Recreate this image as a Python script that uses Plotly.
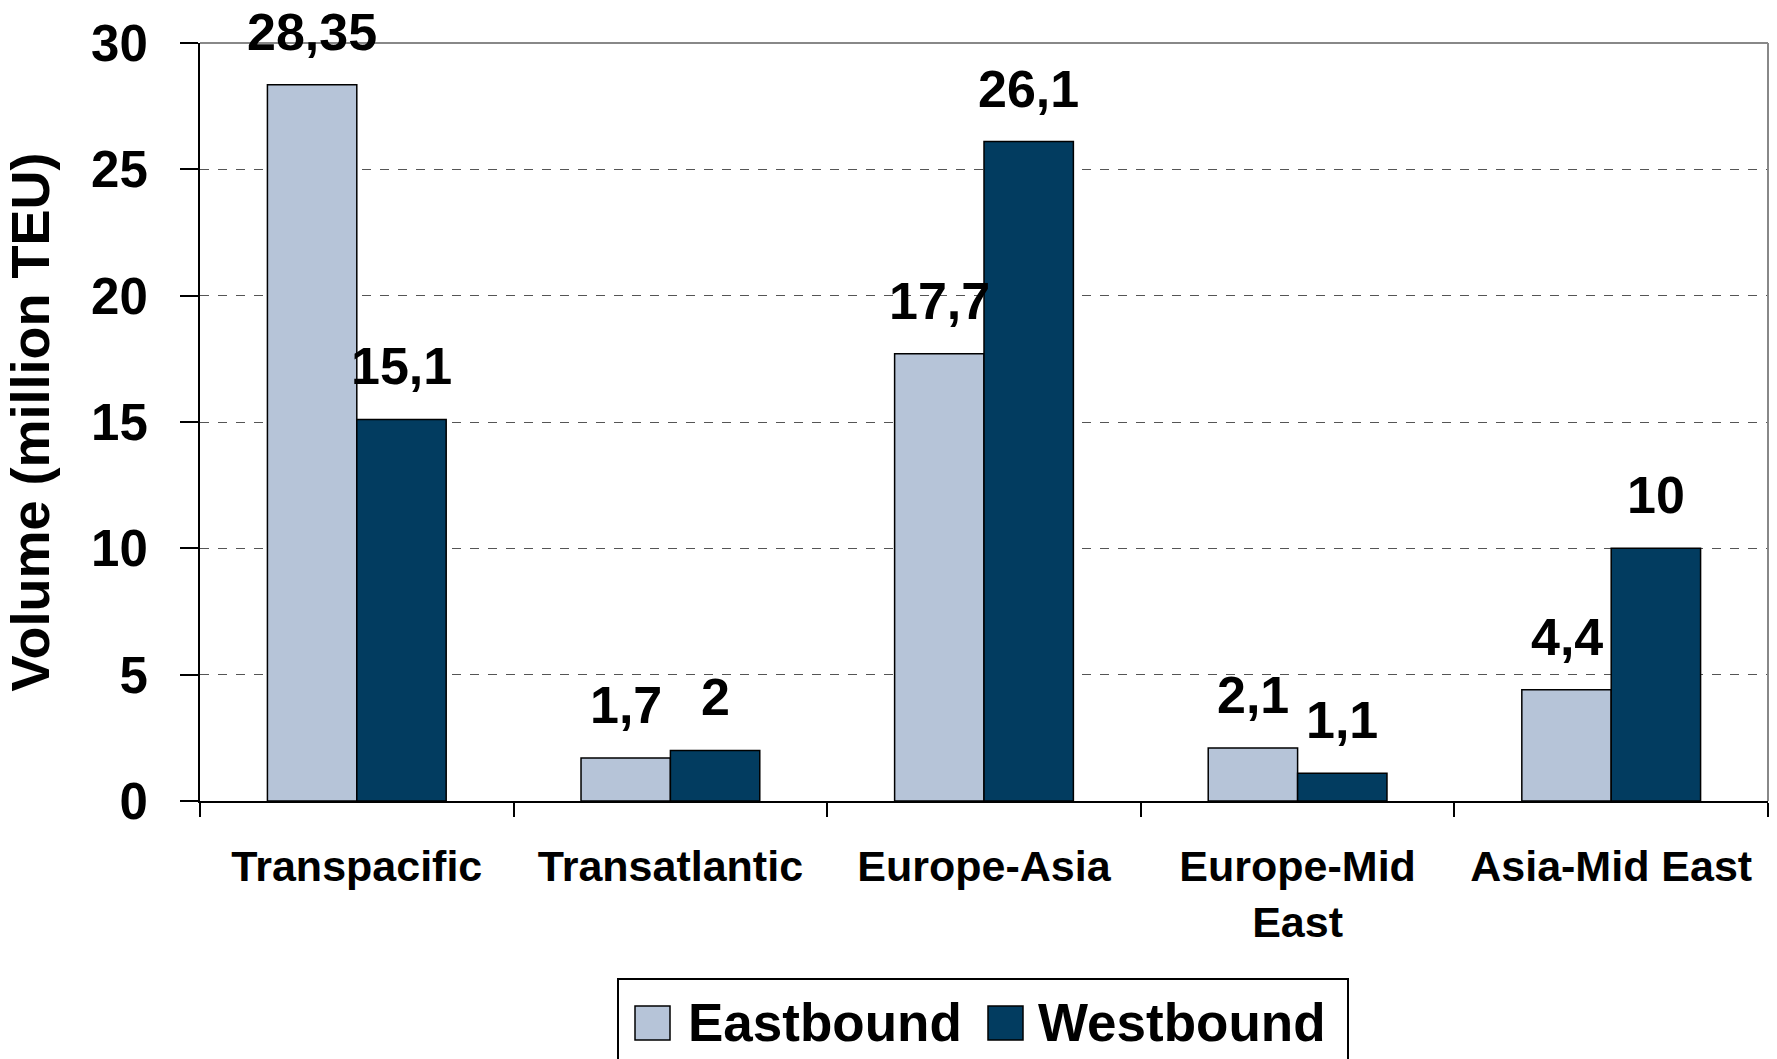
import plotly.graph_objects as go

categories = ["Transpacific", "Transatlantic", "Europe-Asia", "Europe-Mid<br>East", "Asia-Mid East"]
eastbound = [28.35, 1.7, 17.7, 2.1, 4.4]
westbound = [15.1, 2.0, 26.1, 1.1, 10]
series_names = ["Eastbound", "Westbound"]
y_ticks = [0, 5, 10, 15, 20, 25, 30]

EAST_COLOR = "#B6C4D8"
WEST_COLOR = "#023C60"
FONT = "Liberation Sans, Arial, sans-serif"

W, H = 1777, 1059
ML, MR, MT, MB = 200, 9, 43, 258
BARGAP = 0.43
plot_w = W - ML - MR
plot_h = H - MT - MB

def fmt(v):
    return f"{v:g}".replace(".", ",")

fig = go.Figure()
for name, vals, col in [(series_names[0], eastbound, EAST_COLOR), (series_names[1], westbound, WEST_COLOR)]:
    fig.add_trace(go.Bar(
        x=categories, y=vals, name=name,
        marker=dict(color=col, line=dict(color="#000000", width=1.5)),
        showlegend=False, cliponaxis=False,
    ))

# data labels above bars
cat_px = plot_w / len(categories)
bar_px = cat_px * (1 - BARGAP) / 2
annotations = []
for vals, sign in [(eastbound, -1), (westbound, 1)]:
    for c, v in zip(categories, vals):
        annotations.append(dict(
            x=c, y=v, xref="x", yref="y", text=fmt(v), showarrow=False,
            xanchor="center", yanchor="bottom", xshift=sign * bar_px / 2, yshift=22,
            font=dict(family=FONT, size=52, color="#000000", weight="bold"),
        ))

def px_x(p):
    return (p - ML) / plot_w

def px_y(p):
    return (H - MB - p) / plot_h

# custom legend
shapes = [
    # top and right plot borders (gray)
    dict(type="line", xref="paper", yref="paper", x0=0, x1=1, y0=1, y1=1, line=dict(color="#888888", width=2)),
    dict(type="line", xref="paper", yref="paper", x0=1, x1=1, y0=0, y1=1, line=dict(color="#888888", width=2)),
    # legend box
    dict(type="rect", xref="paper", yref="paper", x0=px_x(618), x1=px_x(1348), y0=px_y(979), y1=px_y(1080),
         line=dict(color="#000000", width=2), fillcolor="rgba(0,0,0,0)"),
    dict(type="rect", xref="paper", yref="paper", x0=px_x(635), x1=px_x(670), y0=px_y(1006), y1=px_y(1040),
         line=dict(color="#000000", width=1.5), fillcolor=EAST_COLOR),
    dict(type="rect", xref="paper", yref="paper", x0=px_x(988), x1=px_x(1023), y0=px_y(1006), y1=px_y(1040),
         line=dict(color="#000000", width=1.5), fillcolor=WEST_COLOR),
]
for name, xl in [(series_names[0], 686), (series_names[1], 1036)]:
    annotations.append(dict(
        x=px_x(xl), y=px_y(1022), xref="paper", yref="paper", text=name, showarrow=False,
        xanchor="left", yanchor="middle",
        font=dict(family=FONT, size=53, color="#000000", weight="bold"),
    ))

fig.update_layout(
    width=W, height=H,
    margin=dict(l=ML, r=MR, t=MT, b=MB),
    paper_bgcolor="white", plot_bgcolor="white",
    barmode="group", bargap=BARGAP, bargroupgap=0,
    font=dict(family=FONT, color="#000000"),
    annotations=annotations, shapes=shapes,
    showlegend=False,
)
fig.update_xaxes(
    type="category", tickson="boundaries", ticks="outside", ticklen=14, tickwidth=2, tickcolor="#000000",
    showline=True, linecolor="#000000", linewidth=2, showgrid=False,
    tickfont=dict(family=FONT, size=43, color="#000000", weight="bold"),
    ticklabelstandoff=26,
)
fig.update_yaxes(
    range=[0, 30], tickvals=y_ticks, ticks="outside", ticklen=18, tickwidth=2, tickcolor="#000000",
    showline=True, linecolor="#000000", linewidth=2,
    showgrid=True, gridcolor="#555555", gridwidth=1, griddash="dash", zeroline=False,
    tickfont=dict(family=FONT, size=51, color="#000000", weight="bold"),
    ticklabelstandoff=22,
    title=dict(text="Volume (million TEU)", font=dict(family=FONT, size=54, color="#000000", weight="bold"), standoff=26),
)

fig.write_html("out.html")
